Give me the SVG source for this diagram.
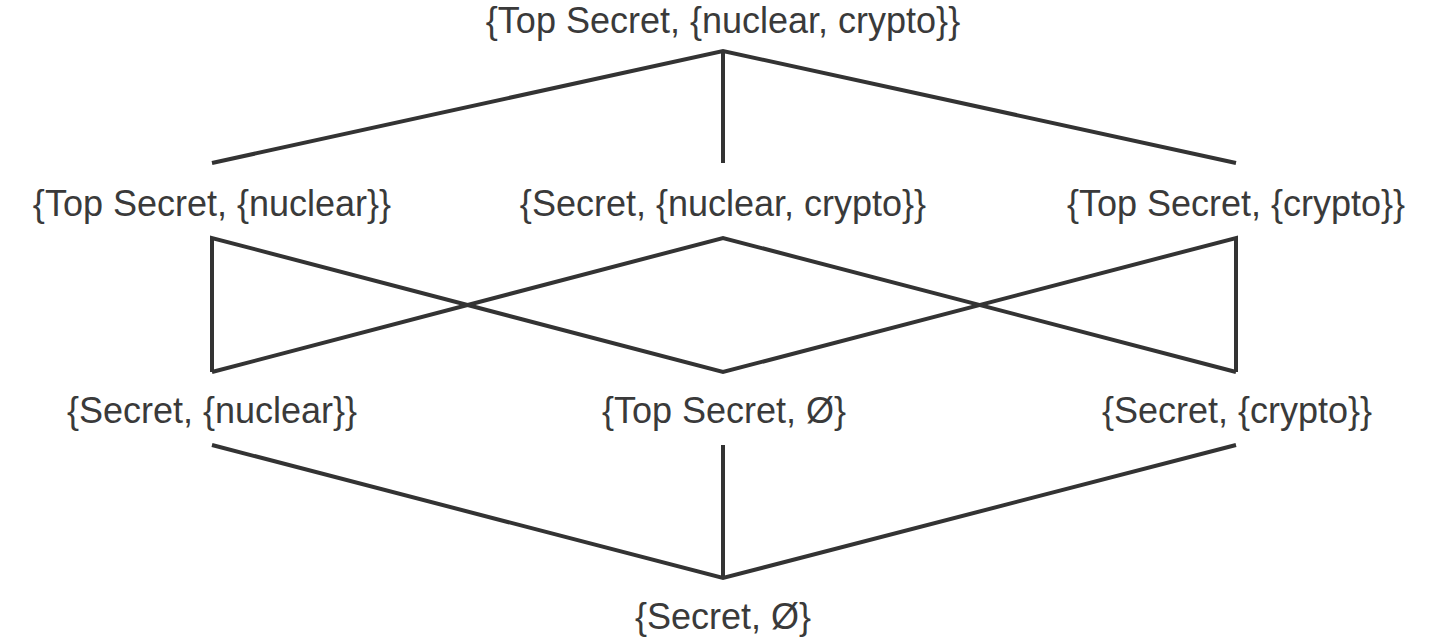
<svg xmlns="http://www.w3.org/2000/svg" width="1446" height="642" viewBox="0 0 1446 642">
<style>
.lbl{font-family:"Liberation Sans",Arial,sans-serif;font-size:36px;fill:#3a3a3a;text-anchor:middle}
.edge{stroke:#333;stroke-width:4;fill:none;stroke-linejoin:miter}
</style>
<rect width="1446" height="642" fill="#fff"/>
<g id="connectors">
<polyline class="edge" points="212,163 723,51 1236,163"/>
<line class="edge" x1="723" y1="51" x2="723" y2="163"/>
<polyline class="edge" points="212,372 212,238 723,372 1236,238 1236,372"/>
<polyline class="edge" points="212,372 723,238 1236,372"/>
<polyline class="edge" points="212,445 723,578 1236,445"/>
<line class="edge" x1="723" y1="445" x2="723" y2="578"/>
</g>
<g id="n-top"><text class="lbl" x="723" y="33">{Top Secret, {nuclear, crypto}}</text></g>
<g id="n-ts-nuclear"><text class="lbl" x="212" y="216">{Top Secret, {nuclear}}</text></g>
<g id="n-s-nuclear-crypto"><text class="lbl" x="723" y="216">{Secret, {nuclear, crypto}}</text></g>
<g id="n-ts-crypto"><text class="lbl" x="1236" y="216">{Top Secret, {crypto}}</text></g>
<g id="n-s-nuclear"><text class="lbl" x="212" y="423">{Secret, {nuclear}}</text></g>
<g id="n-ts-empty"><text class="lbl" x="724" y="423">{Top Secret, Ø}</text></g>
<g id="n-s-crypto"><text class="lbl" x="1237" y="423">{Secret, {crypto}}</text></g>
<g id="n-bottom"><text class="lbl" x="723" y="629">{Secret, Ø}</text></g>
</svg>
